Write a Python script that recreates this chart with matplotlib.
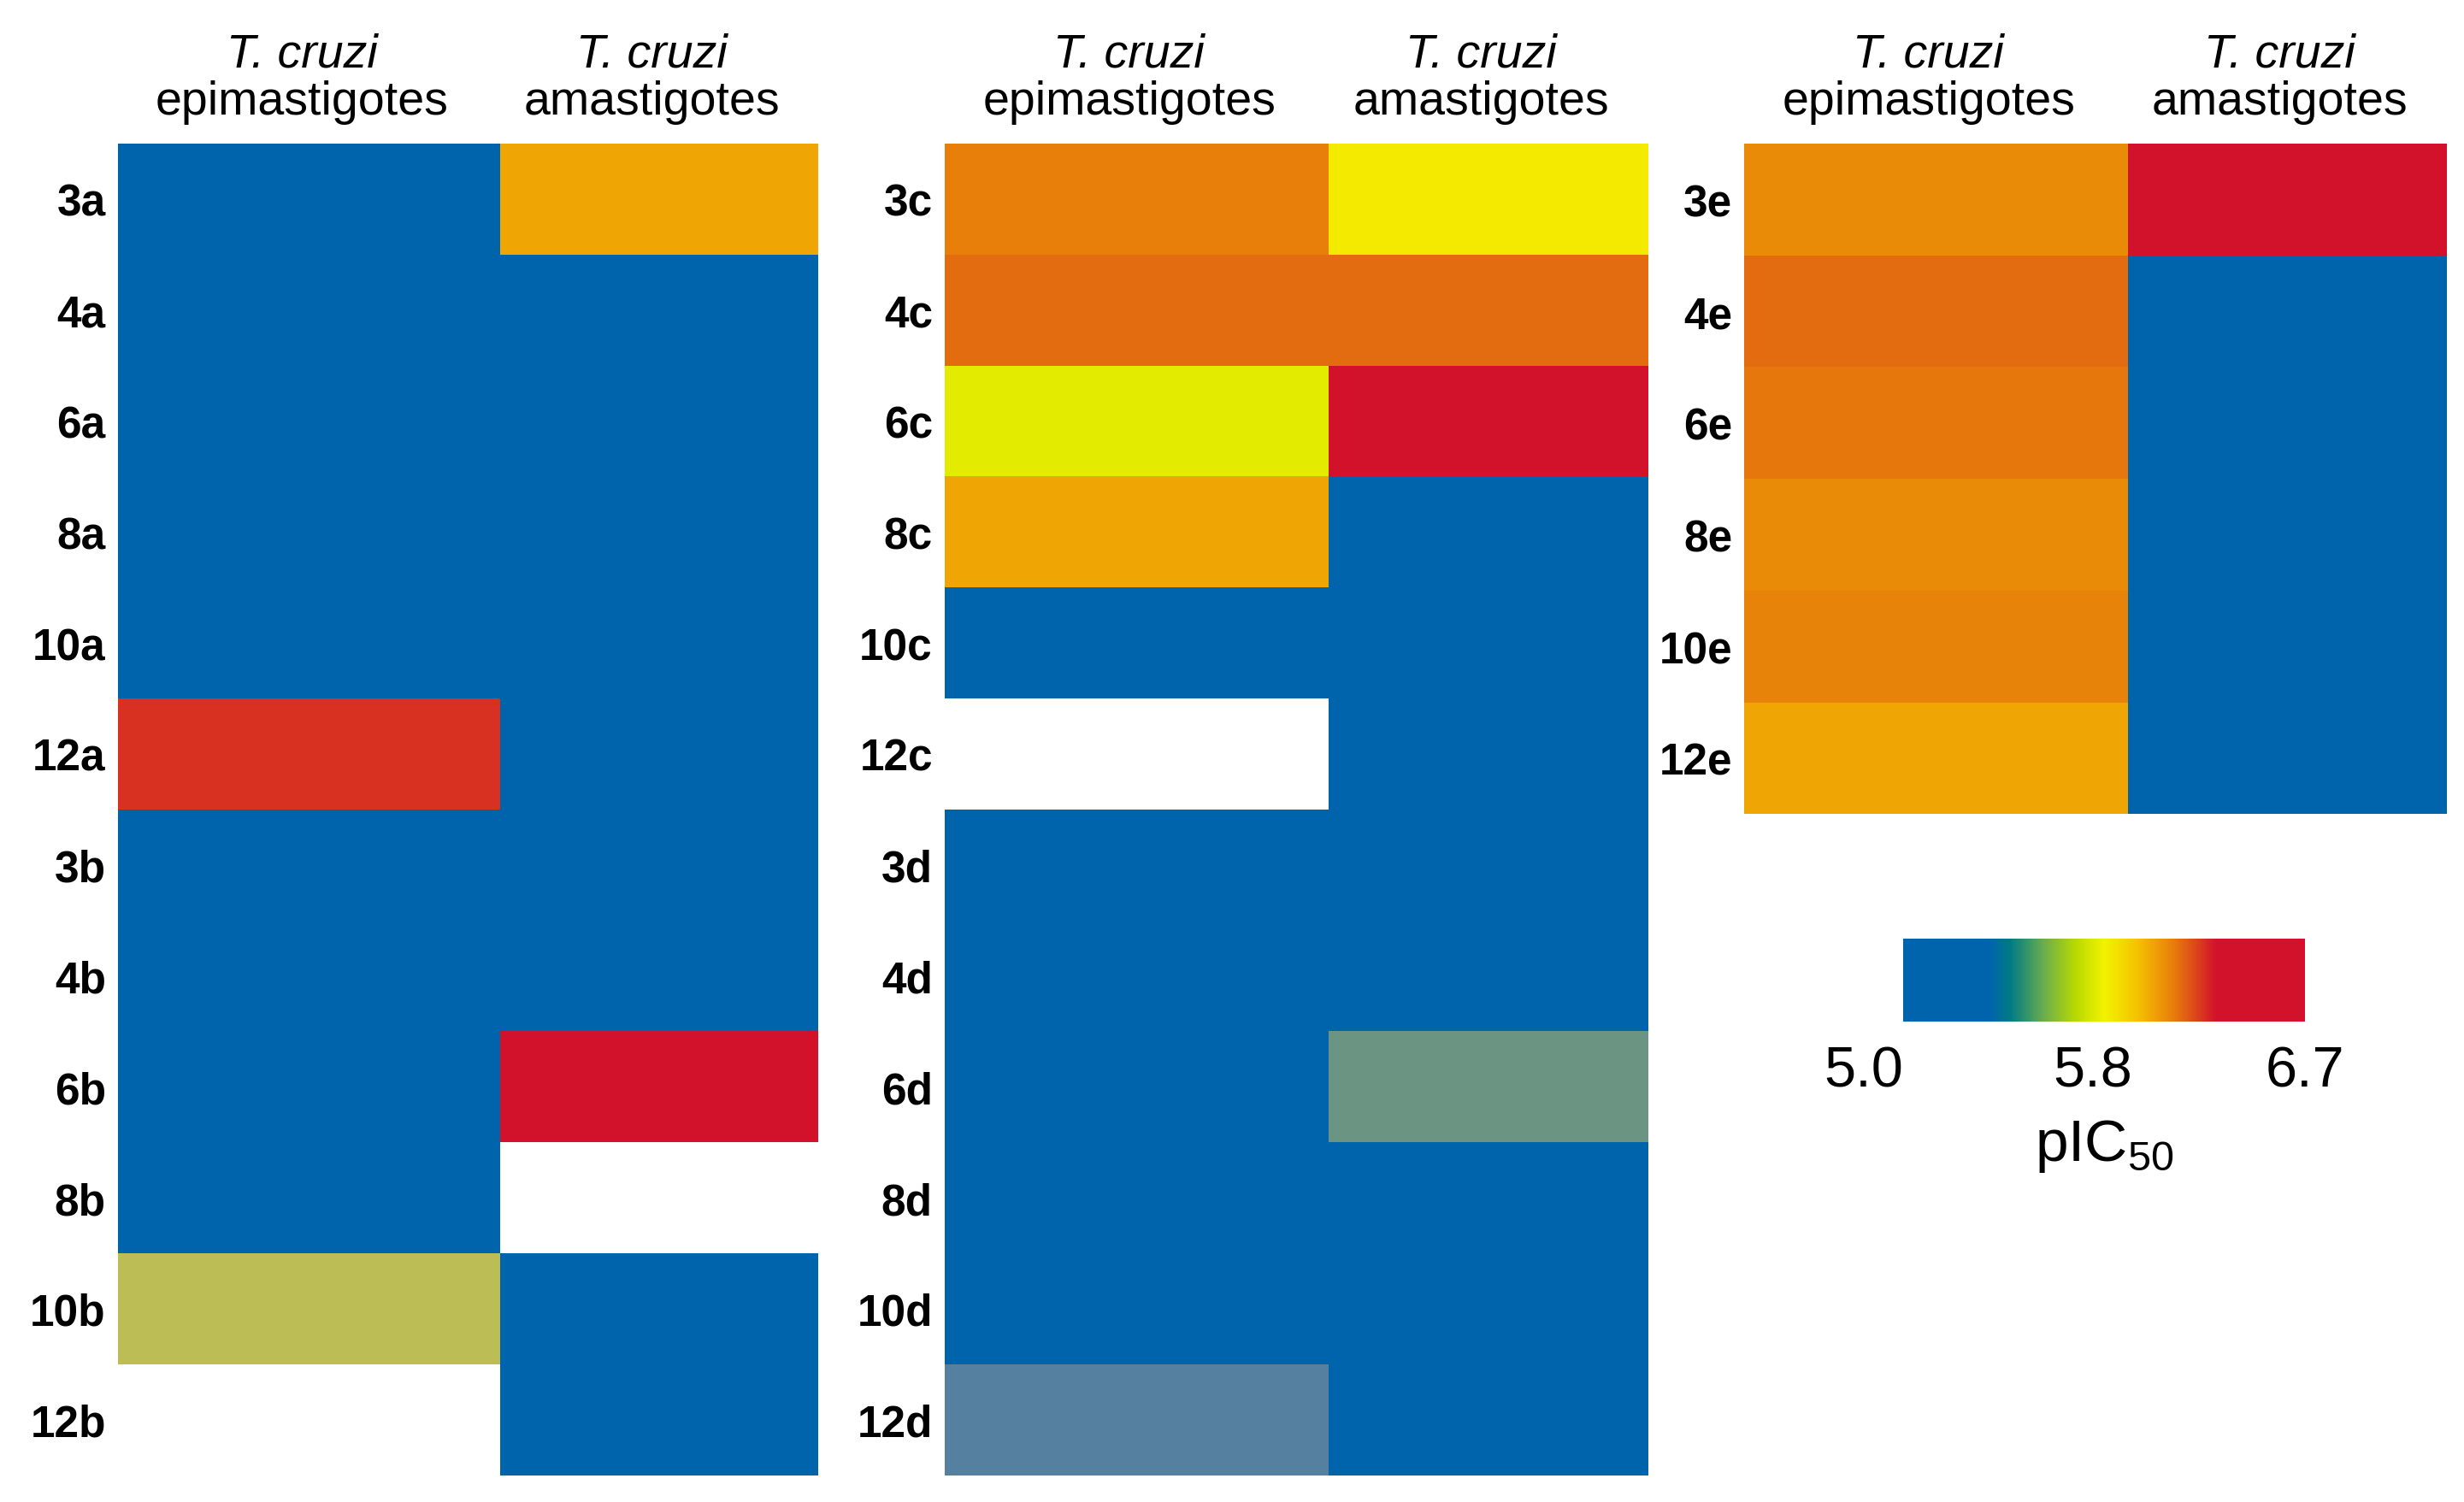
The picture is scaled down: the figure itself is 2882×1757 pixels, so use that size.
import numpy as np
import matplotlib
matplotlib.use("Agg")
import matplotlib.pyplot as plt
from matplotlib.colors import LinearSegmentedColormap, ListedColormap, Normalize

plt.rcParams['font.family'] = ['Liberation Sans', 'DejaVu Sans']
plt.rcParams['mathtext.fontset'] = 'custom'
plt.rcParams['mathtext.rm'] = 'Liberation Sans'

nan = np.nan

# pIC50 values (blue = inactive, shown at 5.0; nan = not tested)
rows_ab = ['3a', '4a', '6a', '8a', '10a', '12a', '3b', '4b', '6b', '8b', '10b', '12b']
epi_ab = [5.0, 5.0, 5.0, 5.0, 5.0, 6.27, 5.0, 5.0, 5.0, 5.0, 5.85, nan]
ama_ab = [6.05, 5.0, 5.0, 5.0, 5.0, 5.0, 5.0, 5.0, 6.6, nan, 5.0, 5.0]

rows_cd = ['3c', '4c', '6c', '8c', '10c', '12c', '3d', '4d', '6d', '8d', '10d', '12d']
epi_cd = [6.14, 6.17, 5.82, 6.05, 5.0, nan, 5.0, 5.0, 5.0, 5.0, 5.0, 5.0]
ama_cd = [5.87, 6.17, 6.6, 5.0, 5.0, 5.0, 5.0, 5.0, 5.52, 5.0, 5.0, 5.0]

rows_e = ['3e', '4e', '6e', '8e', '10e', '12e']
epi_e = [6.11, 6.17, 6.15, 6.11, 6.13, 6.05]
ama_e = [6.6, 5.0, 5.0, 5.0, 5.0, 5.0]

# greyed-out cells (compound, column)
faded_epi = ['10b', '12d']
faded_ama = ['6d']

col_titles = ['epimastigotes', 'amastigotes']
cbar_ticks = [5.0, 5.8, 6.7]

vmin, vmax = 5.0, 6.7
cmap = LinearSegmentedColormap.from_list('pic50', [
    (0.0, '#0064ad'), (0.215, '#0064ad'), (0.265, '#007a85'),
    (0.35, '#6aae4e'), (0.43, '#b8da00'), (0.50, '#f2f200'),
    (0.58, '#f5c400'), (0.67, '#e8800a'), (0.78, '#d2112a'), (1.0, '#d2112a')])
cmap.set_bad('white')
norm = Normalize(vmin, vmax)
fade_cmap = ListedColormap(['#969696'])

fig = plt.figure(figsize=(14.41, 8.79), dpi=200)

panels = [
    ([0.0478, 0.0178, 0.2844, 0.8861], rows_ab, epi_ab, ama_ab),
    ([0.3833, 0.0178, 0.2857, 0.8861], rows_cd, epi_cd, ama_cd),
    ([0.7079, 0.4577, 0.2851, 0.4462], rows_e, epi_e, ama_e),
]
col_edges = np.array([0, 0.546, 1.0])

for pos, rows, epi, ama in panels:
    ax = fig.add_axes(pos)
    vals = np.ma.masked_invalid(np.column_stack([epi, ama]))
    y_edges = np.arange(len(rows) + 1)
    ax.pcolormesh(col_edges, y_edges, vals, cmap=cmap, norm=norm)

    fade = np.zeros((len(rows), 2), dtype=bool)
    for i, r in enumerate(rows):
        fade[i, 0] = r in faded_epi
        fade[i, 1] = r in faded_ama
    if fade.any():
        ax.pcolormesh(col_edges, y_edges, np.ma.masked_where(~fade, np.ones(fade.shape)),
                      cmap=fade_cmap, alpha=0.57)

    ax.set_xlim(0, 1)
    ax.set_ylim(len(rows), 0)
    ax.set_yticks(np.arange(len(rows)) + 0.5)
    ax.set_yticklabels(rows, fontsize=18.5, fontweight='bold')
    ax.tick_params(axis='y', length=0, pad=5)
    ax.set_xticks([])
    for s in ax.spines.values():
        s.set_visible(False)

    # column headers
    for j, name in enumerate(col_titles):
        xc = (col_edges[j] + col_edges[j + 1]) / 2
        xf = pos[0] + xc * pos[2]
        fig.text(xf - 0.003, 0.9635, 'T. cruzi', style='italic', fontsize=20,
                 ha='center', va='center')
        fig.text(xf - 0.003, 0.932, name, fontsize=20, ha='center', va='center')

# colour bar
cax = fig.add_axes([0.7723, 0.3197, 0.1633, 0.0554])
sm = plt.cm.ScalarMappable(norm=norm, cmap=cmap)
cb = fig.colorbar(sm, cax=cax, orientation='horizontal', ticks=cbar_ticks)
cb.outline.set_visible(False)
cb.ax.set_xticklabels(['%.1f' % t for t in cbar_ticks], fontsize=24)
cb.ax.get_xticklabels()[0].set_ha('right')
cb.ax.tick_params(length=0, pad=10)
cb.set_label(r'$\mathrm{pIC}_{50}$', fontsize=25, labelpad=8)

fig.savefig('out.png', dpi=200)
